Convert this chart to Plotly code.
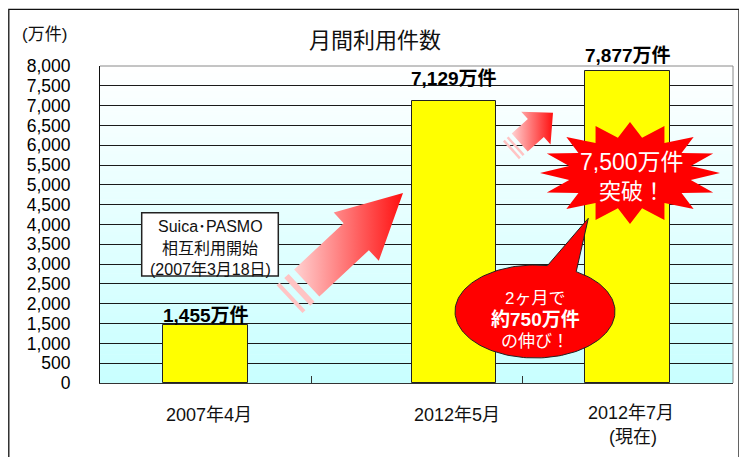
import numpy as np
import plotly.graph_objects as go

# ---------------- data ----------------
categories = ["2007年4月", "2012年5月", "2012年7月"]
category_notes = ["", "", "(現在)"]
values = [1455, 7129, 7877]
y_tick_values = list(range(0, 8001, 500))
title_text = "月間利用件数"
unit_text = "(万件)"
box_lines = ["Suica･PASMO", "相互利用開始", "(2007年3月18日)"]
burst_lines = ["7,500万件", "突破！"]
callout_lines = ["2ヶ月で", "<b>約750万件</b>", "の伸び！"]

# ---------------- layout geometry (page pixels) ----------------
W, H = 747, 457
PAGE_OFF = 8          # browser body margin
L, R, T, B = 100, 733, 66, 383
cat_px = (R - L) / len(categories)
bar_width = 0.4
bar_offsets = [-0.2, -0.022, -0.2]
label_yshift = [10, 22, 15]

FONT = "Liberation Sans, Arial, Noto Sans CJK JP, sans-serif"
CJK = "Noto Sans CJK JP, Liberation Sans, sans-serif"


def px(x):
    return (x - L) / (R - L)


def py(y):
    return (B - y) / (B - T)


fig = go.Figure()

fig.add_trace(go.Bar(
    x=categories, y=values,
    width=[bar_width] * len(values), offset=bar_offsets,
    marker=dict(color="#ffff00", line=dict(color="#222222", width=1)),
    hoverinfo="skip", showlegend=False,
))

# ---------------- decorations (pixel-space overlay axes) ----------------
def arrow_poly(tail, tip, ws, wh, lh):
    t = np.array(tail, float)
    p = np.array(tip, float)
    d = (p - t) / np.linalg.norm(p - t)
    n = np.array([-d[1], d[0]])
    h = p - d * lh
    pts = [t + n * ws / 2, h + n * ws / 2, h + n * wh / 2, p,
           h - n * wh / 2, h - n * ws / 2, t - n * ws / 2, t + n * ws / 2]
    return [q[0] for q in pts], [q[1] for q in pts], d, n


def stripe_poly(center, d, n, thick, length):
    c = np.array(center, float)
    pts = [c + d * thick / 2 + n * length / 2, c + d * thick / 2 - n * length / 2,
           c - d * thick / 2 - n * length / 2, c - d * thick / 2 + n * length / 2,
           c + d * thick / 2 + n * length / 2]
    return [q[0] for q in pts], [q[1] for q in pts]


def add_poly(xs, ys, fill=None, grad=None, line_color=None, line_width=0):
    kw = {}
    if grad is not None:
        kw["fillgradient"] = dict(type="horizontal", colorscale=grad)
    else:
        kw["fillcolor"] = fill
    fig.add_trace(go.Scatter(
        x=xs, y=ys, xaxis="x2", yaxis="y2", mode="lines", fill="toself",
        line=dict(color=line_color or "rgba(0,0,0,0)", width=line_width),
        hoverinfo="skip", showlegend=False, cliponaxis=False, **kw))


arrow_grad = [[0, "#ffd2d2"], [1, "#ff1010"]]
stripe_col = "#ffc4c4"

# big arrow
tail, tip = (306.7, 283.0), (403.0, 193.0)
xs, ys, d, n = arrow_poly(tail, tip, 37, 66, 64)
add_poly(xs, ys, grad=arrow_grad)
for dist, th in [(10, 6), (21.5, 4)]:
    c = np.array(tail) - d * dist
    sx, sy = stripe_poly(c, d, n, th, 38)
    add_poly(sx, sy, fill=stripe_col)

# small arrow
tail2, tip2 = (519.7, 142.5), (553.0, 112.7)
xs, ys, d2, n2 = arrow_poly(tail2, tip2, 24, 44, 23)
add_poly(xs, ys, grad=arrow_grad)
for dist, th in [(5.5, 2.5), (10.5, 2.5)]:
    c = np.array(tail2) - d2 * dist
    sx, sy = stripe_poly(c, d2, n2, th, 24)
    add_poly(sx, sy, fill=stripe_col)

# starburst
cx, cy = 630, 173
nsp = 16
ang = np.linspace(0, 2 * np.pi, 2 * nsp + 1)
rx = np.where(np.arange(2 * nsp + 1) % 2 == 0, 90, 62)
ry = np.where(np.arange(2 * nsp + 1) % 2 == 0, 51, 36)
add_poly(list(cx + rx * np.cos(ang)), list(cy + ry * np.sin(ang)), fill="#ff0000")

# callout ellipse with pointer
ecx, ecy, erx, ery = 535, 311.5, 80, 46.5
t = np.radians(np.linspace(-59, 279, 160))
ex = list(ecx + erx * np.cos(t)) + [588.3, ecx + erx * np.cos(np.radians(-59))]
ey = list(ecy + ery * np.sin(t)) + [218.3, ecy + ery * np.sin(np.radians(-59))]
add_poly(ex, ey, fill="#ff0000", line_color="#222222", line_width=1)

# ---------------- shapes ----------------
shapes = []
N = 90
c_top = np.array([255, 255, 255])
c_bot = np.array([200, 255, 255])
for i in range(N):
    f = (i + 0.5) / N
    col = c_bot + (c_top - c_bot) * f
    shapes.append(dict(type="rect", xref="paper", yref="paper", x0=0, x1=1,
                       y0=i / N, y1=(i + 1) / N + 0.002, layer="below",
                       line=dict(width=0),
                       fillcolor="rgb(%d,%d,%d)" % tuple(col.round())))
# plot border top & right (gray)
shapes.append(dict(type="line", xref="paper", yref="paper", x0=0, x1=1, y0=1, y1=1,
                   line=dict(color="#8a8a8a", width=1)))
shapes.append(dict(type="line", xref="paper", yref="paper", x0=1, x1=1, y0=0, y1=1,
                   line=dict(color="#8a8a8a", width=1)))
# outer frame
shapes.append(dict(type="rect", xref="paper", yref="paper",
                   x0=px(PAGE_OFF + 0.8), x1=px(739), y0=py(475), y1=py(9.3),
                   line=dict(color="#111111", width=1.3)))
# info box
shapes.append(dict(type="rect", xref="x2", yref="y2", x0=141.7, x1=278.3, y0=212.7, y1=276,
                   fillcolor="white", line=dict(color="#222222", width=1.5), layer="above"))

annotations = []
# unit
annotations.append(dict(text=unit_text, xref="paper", yref="paper", x=px(44), y=py(35),
                        xanchor="center", yanchor="middle",
                        showarrow=False, font=dict(family=FONT, size=17, color="#111")))
# value labels
for c, v, off, ysh in zip(categories, values, bar_offsets, label_yshift):
    annotations.append(dict(
        text=f"{v:,}万件", x=c, y=v, xref="x", yref="y", showarrow=False,
        xanchor="center", yanchor="middle", yshift=ysh,
        xshift=(off + bar_width / 2) * cat_px,
        font=dict(family=FONT, size=19, color="#000", weight="bold")))
# category labels
for c, note, off in zip(categories, category_notes, bar_offsets):
    xsh = (off + bar_width / 2) * cat_px + 3
    lab_font = dict(family=FONT, size=18, color="#111")
    if note:
        annotations.append(dict(text=c, x=c, y=py(413), xref="x", yref="paper",
                                xanchor="center", yanchor="middle",
                                showarrow=False, xshift=xsh, font=lab_font))
        annotations.append(dict(text=note, x=c, y=py(437), xref="x", yref="paper",
                                xanchor="center", yanchor="middle",
                                showarrow=False, xshift=xsh + 2, font=lab_font))
    else:
        annotations.append(dict(text=c, x=c, y=py(415), xref="x", yref="paper",
                                xanchor="center", yanchor="middle",
                                showarrow=False, xshift=xsh, font=lab_font))
# info box text
for line, yy in zip(box_lines, [226.7, 248.5, 269]):
    annotations.append(dict(text=line, x=210, y=yy, xref="x2", yref="y2", showarrow=False,
                            xanchor="center", yanchor="middle",
                            font=dict(family=FONT, size=16, color="#111")))
# starburst text
for line, yy, sz in zip(burst_lines, [162, 191.5], [23, 22]):
    annotations.append(dict(text=line, x=632, y=yy, xref="x2", yref="y2", showarrow=False,
                            xanchor="center", yanchor="middle",
                            font=dict(family=FONT, size=sz, color="white")))
# callout text
for line, yy, sz in zip(callout_lines, [298.3, 319, 341.7], [17, 19, 17]):
    annotations.append(dict(text=line, x=535, y=yy, xref="x2", yref="y2", showarrow=False,
                            xanchor="center", yanchor="middle",
                            font=dict(family=FONT, size=sz, color="white")))

fig.update_layout(
    width=W, height=H,
    margin=dict(l=L - PAGE_OFF, r=W - (R - PAGE_OFF), t=T - PAGE_OFF,
                b=H - (B - PAGE_OFF), autoexpand=False),
    paper_bgcolor="white",
    plot_bgcolor="rgba(0,0,0,0)",
    title=dict(text=title_text, x=(375 - PAGE_OFF) / W, xanchor="center",
               y=1 - (40 - PAGE_OFF) / H, yanchor="middle",
               font=dict(family=CJK, size=22, color="#111")),
    xaxis=dict(type="category", categoryorder="array", categoryarray=categories,
               range=[-0.5, len(categories) - 0.5], tickson="boundaries",
               ticks="inside", ticklen=7, tickcolor="#333", showticklabels=False,
               showgrid=False, showline=True, linecolor="#333", linewidth=1,
               zeroline=False, fixedrange=True),
    yaxis=dict(range=[0, 8000], tickvals=y_tick_values, tickformat=",",
               showgrid=True, gridcolor="#1a1a1a", gridwidth=1,
               showline=True, linecolor="#111", linewidth=1, zeroline=False,
               ticks="", ticklabelstandoff=25,
               tickfont=dict(family=FONT, size=17.5, color="#000"), fixedrange=True),
    xaxis2=dict(overlaying="x", anchor="y2", range=[L, R], visible=False, fixedrange=True),
    yaxis2=dict(overlaying="y", anchor="x2", range=[B, T], visible=False, fixedrange=True),
    shapes=shapes,
    annotations=annotations,
    bargap=0,
)

fig.write_html("out.html")
